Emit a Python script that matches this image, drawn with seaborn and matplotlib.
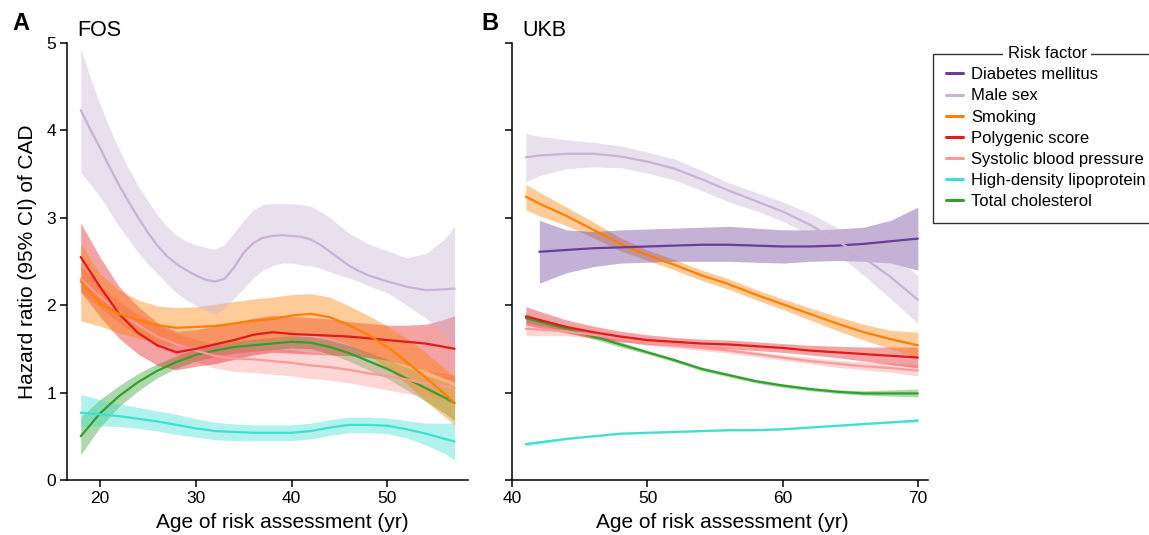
import matplotlib
matplotlib.use("Agg")
import matplotlib.pyplot as plt
from matplotlib.lines import Line2D
import seaborn as sns

# risk factor names in legend order
factors = ["Diabetes mellitus", "Male sex", "Smoking", "Polygenic score",
           "Systolic blood pressure", "High-density lipoprotein", "Total cholesterol"]
colors = ["#6a3d9a", "#cab2d6", "#ff7f00", "#e31a1c", "#fb9a99", "#40e0d0", "#33a02c"]

# ---- FOS (panel A) ----
fos_age = [18, 20, 22, 24, 26, 28, 30, 32, 34, 36, 38, 40, 42, 44, 46, 48, 50, 52, 54, 56, 57]
fos_age_male = [18, 19, 20, 21, 22, 23, 24, 25, 26, 27, 28, 29, 30, 31, 32, 33, 34, 35, 36, 37,
                38, 39, 40, 41, 42, 43, 44, 45, 46, 47, 48, 50, 52, 54, 56, 57]

fos_male = [4.23, 4.01, 3.80, 3.58, 3.37, 3.18, 3.00, 2.83, 2.68, 2.56, 2.47, 2.40, 2.34, 2.29, 2.27, 2.30, 2.43, 2.60,
            2.71, 2.77, 2.79, 2.80, 2.79, 2.78, 2.75, 2.69, 2.61, 2.53, 2.45, 2.39, 2.34, 2.27, 2.21, 2.17, 2.18, 2.19]
fos_male_hi = [4.93, 4.60, 4.30, 4.03, 3.78, 3.56, 3.36, 3.19, 3.03, 2.90, 2.80, 2.73, 2.69, 2.66, 2.64, 2.69, 2.83, 2.97,
               3.09, 3.15, 3.16, 3.16, 3.16, 3.15, 3.13, 3.07, 3.00, 2.91, 2.82, 2.76, 2.70, 2.62, 2.54, 2.59, 2.76, 2.90]
fos_male_lo = [3.52, 3.38, 3.24, 3.07, 2.90, 2.75, 2.60, 2.47, 2.36, 2.24, 2.14, 2.06, 2.00, 1.94, 1.90, 1.96, 2.08, 2.19,
               2.31, 2.40, 2.45, 2.48, 2.48, 2.46, 2.45, 2.42, 2.38, 2.34, 2.31, 2.27, 2.22, 2.14, 2.00, 1.85, 1.68, 1.50]

fos_smoke = [2.27, 2.02, 1.90, 1.83, 1.77, 1.74, 1.75, 1.76, 1.79, 1.82, 1.84, 1.88, 1.90, 1.86, 1.77, 1.66, 1.52, 1.35, 1.17, 0.98, 0.88]
fos_smoke_hi = [2.70, 2.36, 2.17, 2.06, 1.99, 1.97, 1.98, 2.01, 2.04, 2.07, 2.09, 2.12, 2.13, 2.09, 1.99, 1.88, 1.76, 1.62, 1.46, 1.27, 1.18]
fos_smoke_lo = [1.82, 1.76, 1.68, 1.62, 1.57, 1.53, 1.53, 1.54, 1.56, 1.59, 1.61, 1.64, 1.66, 1.62, 1.55, 1.43, 1.28, 1.10, 0.90, 0.72, 0.63]

fos_prs = [2.55, 2.21, 1.90, 1.68, 1.54, 1.46, 1.50, 1.55, 1.60, 1.66, 1.69, 1.67, 1.66, 1.65, 1.64, 1.62, 1.60, 1.58, 1.56, 1.52, 1.50]
fos_prs_hi = [2.94, 2.55, 2.21, 1.98, 1.80, 1.70, 1.72, 1.76, 1.80, 1.85, 1.88, 1.87, 1.86, 1.84, 1.81, 1.79, 1.77, 1.77, 1.78, 1.84, 1.88]
fos_prs_lo = [2.15, 1.87, 1.62, 1.44, 1.31, 1.26, 1.30, 1.33, 1.38, 1.43, 1.46, 1.45, 1.44, 1.43, 1.42, 1.40, 1.37, 1.31, 1.25, 1.16, 1.12]

fos_sbp = [2.30, 2.10, 1.92, 1.77, 1.64, 1.55, 1.48, 1.42, 1.39, 1.38, 1.36, 1.34, 1.31, 1.29, 1.26, 1.22, 1.19, 1.15, 1.10, 1.07, 1.05]
fos_sbp_hi = [2.45, 2.23, 2.04, 1.89, 1.77, 1.68, 1.61, 1.56, 1.54, 1.53, 1.51, 1.49, 1.46, 1.44, 1.41, 1.37, 1.34, 1.30, 1.25, 1.22, 1.20]
fos_sbp_lo = [2.15, 1.97, 1.80, 1.65, 1.52, 1.43, 1.35, 1.28, 1.24, 1.23, 1.21, 1.19, 1.16, 1.14, 1.11, 1.07, 1.03, 0.99, 0.95, 0.92, 0.90]

fos_hdl = [0.77, 0.75, 0.73, 0.70, 0.67, 0.63, 0.59, 0.56, 0.55, 0.54, 0.54, 0.54, 0.56, 0.60, 0.63, 0.63, 0.62, 0.58, 0.53, 0.47, 0.44]
fos_hdl_hi = [0.98, 0.92, 0.87, 0.83, 0.79, 0.75, 0.70, 0.66, 0.64, 0.63, 0.63, 0.63, 0.65, 0.69, 0.72, 0.72, 0.71, 0.68, 0.65, 0.65, 0.65]
fos_hdl_lo = [0.61, 0.62, 0.61, 0.59, 0.56, 0.52, 0.49, 0.46, 0.45, 0.45, 0.45, 0.45, 0.47, 0.51, 0.54, 0.54, 0.53, 0.48, 0.40, 0.30, 0.23]

fos_tc = [0.50, 0.76, 0.96, 1.12, 1.25, 1.35, 1.43, 1.48, 1.52, 1.54, 1.56, 1.58, 1.57, 1.52, 1.45, 1.36, 1.27, 1.16, 1.05, 0.94, 0.88]
fos_tc_hi = [0.72, 0.92, 1.08, 1.22, 1.33, 1.42, 1.50, 1.55, 1.59, 1.61, 1.63, 1.65, 1.64, 1.60, 1.54, 1.46, 1.38, 1.29, 1.20, 1.12, 1.08]
fos_tc_lo = [0.29, 0.60, 0.84, 1.02, 1.17, 1.28, 1.36, 1.41, 1.45, 1.47, 1.49, 1.51, 1.50, 1.44, 1.36, 1.26, 1.16, 1.03, 0.90, 0.76, 0.68]

# ---- UKB (panel B) ----
ukb_age = [41, 42, 44, 46, 48, 50, 52, 54, 56, 58, 60, 62, 64, 66, 68, 70]
ukb_age_dm = [42, 44, 46, 48, 50, 52, 54, 56, 58, 60, 62, 64, 66, 68, 70]

ukb_dm = [2.61, 2.63, 2.65, 2.66, 2.67, 2.68, 2.69, 2.69, 2.68, 2.67, 2.67, 2.68, 2.70, 2.73, 2.76]
ukb_dm_hi = [2.97, 2.86, 2.84, 2.86, 2.87, 2.88, 2.89, 2.90, 2.88, 2.86, 2.86, 2.87, 2.89, 2.97, 3.12]
ukb_dm_lo = [2.25, 2.37, 2.44, 2.48, 2.49, 2.50, 2.50, 2.50, 2.49, 2.48, 2.50, 2.51, 2.50, 2.48, 2.40]

ukb_male = [3.69, 3.71, 3.73, 3.73, 3.70, 3.64, 3.56, 3.44, 3.31, 3.19, 3.07, 2.92, 2.74, 2.54, 2.32, 2.06]
ukb_male_hi = [3.96, 3.93, 3.89, 3.86, 3.82, 3.75, 3.67, 3.54, 3.40, 3.29, 3.18, 3.05, 2.89, 2.74, 2.59, 2.34]
ukb_male_lo = [3.41, 3.48, 3.56, 3.58, 3.57, 3.51, 3.43, 3.31, 3.18, 3.08, 2.96, 2.80, 2.59, 2.34, 2.07, 1.79]

ukb_smoke = [3.24, 3.16, 3.02, 2.86, 2.70, 2.57, 2.46, 2.34, 2.24, 2.12, 2.01, 1.90, 1.79, 1.69, 1.61, 1.54]
ukb_smoke_hi = [3.38, 3.29, 3.12, 2.95, 2.77, 2.63, 2.52, 2.40, 2.30, 2.18, 2.07, 1.97, 1.87, 1.78, 1.71, 1.69]
ukb_smoke_lo = [3.09, 3.02, 2.91, 2.77, 2.62, 2.51, 2.40, 2.28, 2.18, 2.06, 1.95, 1.83, 1.71, 1.60, 1.50, 1.40]

ukb_prs = [1.87, 1.83, 1.75, 1.69, 1.64, 1.60, 1.58, 1.56, 1.55, 1.53, 1.51, 1.48, 1.46, 1.44, 1.42, 1.40]
ukb_prs_hi = [1.98, 1.93, 1.83, 1.76, 1.70, 1.66, 1.63, 1.61, 1.60, 1.58, 1.56, 1.54, 1.53, 1.52, 1.52, 1.52]
ukb_prs_lo = [1.77, 1.74, 1.68, 1.62, 1.58, 1.55, 1.53, 1.51, 1.50, 1.48, 1.46, 1.43, 1.40, 1.36, 1.32, 1.28]

ukb_sbp = [1.73, 1.72, 1.70, 1.66, 1.62, 1.57, 1.54, 1.51, 1.48, 1.44, 1.40, 1.36, 1.33, 1.30, 1.28, 1.25]
ukb_sbp_hi = [1.82, 1.79, 1.75, 1.70, 1.65, 1.60, 1.57, 1.54, 1.51, 1.47, 1.43, 1.40, 1.37, 1.35, 1.34, 1.32]
ukb_sbp_lo = [1.65, 1.65, 1.65, 1.62, 1.59, 1.54, 1.51, 1.48, 1.45, 1.41, 1.37, 1.33, 1.29, 1.26, 1.23, 1.19]

ukb_hdl = [0.41, 0.43, 0.47, 0.50, 0.53, 0.54, 0.55, 0.56, 0.57, 0.57, 0.58, 0.60, 0.62, 0.64, 0.66, 0.68]
ukb_hdl_hi = [0.43, 0.45, 0.48, 0.51, 0.54, 0.55, 0.56, 0.57, 0.58, 0.58, 0.59, 0.61, 0.63, 0.65, 0.67, 0.70]
ukb_hdl_lo = [0.39, 0.41, 0.46, 0.49, 0.52, 0.53, 0.54, 0.55, 0.56, 0.56, 0.57, 0.59, 0.61, 0.63, 0.65, 0.66]

ukb_tc = [1.85, 1.81, 1.73, 1.64, 1.55, 1.46, 1.37, 1.27, 1.20, 1.13, 1.08, 1.04, 1.01, 0.99, 0.99, 0.99]
ukb_tc_hi = [1.90, 1.85, 1.76, 1.67, 1.58, 1.48, 1.39, 1.29, 1.22, 1.15, 1.10, 1.06, 1.03, 1.02, 1.03, 1.04]
ukb_tc_lo = [1.80, 1.77, 1.70, 1.61, 1.52, 1.44, 1.35, 1.25, 1.18, 1.11, 1.06, 1.02, 0.99, 0.97, 0.96, 0.95]

# (factor index, age, hr, lower, upper), drawn back to front
fos_series = [
    (6, fos_age, fos_tc, fos_tc_lo, fos_tc_hi),
    (5, fos_age, fos_hdl, fos_hdl_lo, fos_hdl_hi),
    (4, fos_age, fos_sbp, fos_sbp_lo, fos_sbp_hi),
    (3, fos_age, fos_prs, fos_prs_lo, fos_prs_hi),
    (2, fos_age, fos_smoke, fos_smoke_lo, fos_smoke_hi),
    (1, fos_age_male, fos_male, fos_male_lo, fos_male_hi),
]
ukb_series = [
    (6, ukb_age, ukb_tc, ukb_tc_lo, ukb_tc_hi),
    (5, ukb_age, ukb_hdl, ukb_hdl_lo, ukb_hdl_hi),
    (4, ukb_age, ukb_sbp, ukb_sbp_lo, ukb_sbp_hi),
    (3, ukb_age, ukb_prs, ukb_prs_lo, ukb_prs_hi),
    (2, ukb_age, ukb_smoke, ukb_smoke_lo, ukb_smoke_hi),
    (0, ukb_age_dm, ukb_dm, ukb_dm_lo, ukb_dm_hi),
    (1, ukb_age, ukb_male, ukb_male_lo, ukb_male_hi),
]

sns.set_theme(style="ticks")
plt.rcParams["font.family"] = ["Liberation Sans", "DejaVu Sans"]
plt.rcParams["text.color"] = "black"
plt.rcParams["axes.labelcolor"] = "black"

W, H = 1149, 535
fig = plt.figure(figsize=(W / 100, H / 100), dpi=100)
axA = fig.add_axes([67.3 / W, 1 - 480 / H, (468 - 67.3) / W, (480 - 42.7) / H])
axB = fig.add_axes([512.3 / W, 1 - 480 / H, (928 - 512.3) / W, (480 - 42.7) / H])


def draw(ax, series):
    for idx, age, hr, lo, hi in series:
        ax.fill_between(age, lo, hi, color=colors[idx], alpha=0.4, lw=0)
        sns.lineplot(x=age, y=hr, ax=ax, color=colors[idx], linewidth=1.6,
                     legend=False, estimator=None, sort=False)


draw(axA, fos_series)
draw(axB, ukb_series)

for ax in (axA, axB):
    ax.set_ylim(0, 5)
    ax.set_yticks([0, 1, 2, 3, 4, 5])
    sns.despine(ax=ax)
    for s in ("left", "bottom"):
        ax.spines[s].set_linewidth(1.1)
        ax.spines[s].set_color("black")
    ax.tick_params(axis="both", length=5, width=1.1, color="black",
                   labelsize=12.5, labelcolor="black", pad=3)
    ax.set_xlabel("Age of risk assessment (yr)", fontsize=15, labelpad=3)

axA.set_xlim(16.6, 58.4)
axA.set_xticks([20, 30, 40, 50])
axA.set_ylabel("Hazard ratio (95% CI) of CAD", fontsize=15, labelpad=7)
axA.xaxis.set_label_coords(0.537, -0.075)

axB.set_xlim(40, 70.75)
axB.set_xticks([40, 50, 60, 70])
axB.set_yticklabels([])
axB.set_ylabel("")
axB.xaxis.set_label_coords(0.505, -0.075)

fig.text(12 / W, 1 - 23 / H, "A", fontsize=17, fontweight="bold", va="center")
fig.text(481 / W, 1 - 23 / H, "B", fontsize=17, fontweight="bold", va="center")
fig.text(77 / W, 1 - 30 / H, "FOS", fontsize=15.5, va="center")
fig.text(522 / W, 1 - 30 / H, "UKB", fontsize=15.5, va="center")

handles = [Line2D([], [], color=c, lw=2.2) for c in colors]
leg = fig.legend(handles, factors, loc="upper left",
                 bbox_to_anchor=(933 / W, 1 - 54 / H), fontsize=12,
                 frameon=True, fancybox=False, handlelength=1.0,
                 handletextpad=0.48, labelspacing=0.37, borderpad=0.8,
                 borderaxespad=0)
leg.get_frame().set_edgecolor("black")
leg.get_frame().set_linewidth(1.0)
fig.text(1047 / W, 1 - 54 / H, "Risk factor", fontsize=12, ha="center", va="center",
         zorder=10, bbox=dict(facecolor="white", edgecolor="none", pad=3))

fig.savefig("out.png", dpi=100)
